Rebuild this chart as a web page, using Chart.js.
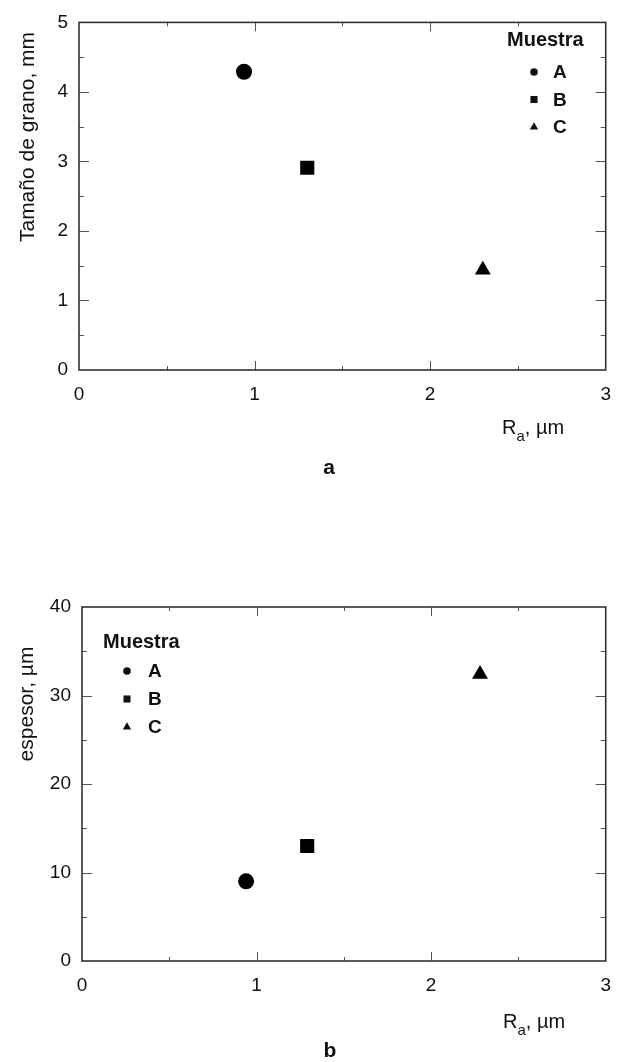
<!DOCTYPE html>
<html><head><meta charset="utf-8">
<script src="https://cdn.jsdelivr.net/npm/chart.js@4"></script>
<style>
html,body{margin:0;padding:0;background:#fff;}
#wrap{position:relative;width:624px;height:1062px;overflow:hidden;}
.box{position:absolute;left:0;width:624px;}
</style></head><body>
<div id="wrap">
<div class="box" style="top:0;height:500px"><canvas id="c1"></canvas></div>
<div class="box" style="top:500px;height:562px"><canvas id="c2"></canvas></div>
</div>
<script>
// ---- data ----
const samples = ['A', 'B', 'C'];
const pointStyles = ['circle', 'rect', 'triangle'];
const raTop = [0.94, 1.30, 2.30];
const grainSize = [4.29, 2.91, 1.44];
const raBottom = [0.94, 1.29, 2.28];
const thickness = [9.0, 13.0, 32.4];
const xTicks = [0, 1, 2, 3];
const yTicksTop = [0, 1, 2, 3, 4, 5];
const yTicksBottom = [0, 10, 20, 30, 40];

const FONT = "'Liberation Sans', Arial, Helvetica, sans-serif";
Chart.defaults.font.family = FONT;
Chart.defaults.color = '#111';
Chart.defaults.animation = false;

function drawMarker(ctx, style, x, y, r) {
  ctx.beginPath();
  if (style === 'circle') {
    ctx.arc(x, y, r, 0, Math.PI * 2);
  } else if (style === 'rect') {
    const s = r * Math.SQRT1_2;
    ctx.rect(x - s, y - s, 2 * s, 2 * s);
  } else {
    ctx.moveTo(x, y - r);
    ctx.lineTo(x + 0.866 * r, y + 0.5 * r);
    ctx.lineTo(x - 0.866 * r, y + 0.5 * r);
    ctx.closePath();
  }
  ctx.fill();
}

const framePlugin = {
  id: 'frame',
  afterDraw(chart, args, o) {
    const ctx = chart.ctx;
    const a = chart.chartArea;
    const xs = chart.scales.x, ys = chart.scales.y;
    ctx.save();
    // ticks (inward, all four sides)
    ctx.strokeStyle = '#555';
    ctx.lineWidth = 1;
    const tk = (vals, major) => vals;
    for (let v = xs.min + o.xMinor; v < xs.max - 1e-9; v += o.xMinor) {
      const isMajor = Math.abs(v / o.xMajor - Math.round(v / o.xMajor)) < 1e-6;
      const L = isMajor ? 9 : 4;
      const px = Math.round(xs.getPixelForValue(v)) + 0.5;
      ctx.beginPath();
      ctx.moveTo(px, a.bottom); ctx.lineTo(px, a.bottom - L);
      ctx.moveTo(px, a.top); ctx.lineTo(px, a.top + L);
      ctx.stroke();
    }
    for (let v = ys.min + o.yMinor; v < ys.max - 1e-9; v += o.yMinor) {
      const isMajor = Math.abs(v / o.yMajor - Math.round(v / o.yMajor)) < 1e-6;
      const L = isMajor ? 10 : 5;
      const py = Math.round(ys.getPixelForValue(v)) + 0.5;
      ctx.beginPath();
      ctx.moveTo(a.left, py); ctx.lineTo(a.left + L, py);
      ctx.moveTo(a.right, py); ctx.lineTo(a.right - L, py);
      ctx.stroke();
    }
    // frame
    ctx.strokeStyle = '#333';
    ctx.lineWidth = 1.6;
    ctx.strokeRect(a.left, a.top, a.right - a.left, a.bottom - a.top);

    // y axis title
    ctx.fillStyle = '#111';
    ctx.font = '21px ' + FONT;
    ctx.textAlign = 'center';
    ctx.textBaseline = 'middle';
    ctx.save();
    ctx.translate(o.yTitleX, o.yTitleY);
    ctx.rotate(-Math.PI / 2);
    ctx.fillText(o.yTitle, 0, 0);
    ctx.restore();

    // x axis title  R_a, µm
    ctx.textAlign = 'left';
    ctx.textBaseline = 'alphabetic';
    let x = o.xTitleX;
    ctx.font = '20px ' + FONT;
    ctx.fillText('R', x, o.xTitleBase);
    x += ctx.measureText('R').width;
    ctx.font = '15px ' + FONT;
    ctx.fillText('a', x, o.xTitleBase + 7);
    x += ctx.measureText('a').width;
    ctx.font = '20px ' + FONT;
    ctx.fillText(', \u00b5m', x, o.xTitleBase);

    // caption
    ctx.font = 'bold 21px ' + FONT;
    ctx.textAlign = 'center';
    ctx.fillText(o.caption, o.capX, o.capBase);

    // legend
    ctx.textAlign = 'left';
    ctx.font = 'bold 20px ' + FONT;
    ctx.fillText('Muestra', o.legX, o.legTitleBase);
    ctx.font = 'bold 19px ' + FONT;
    const mr = [3.8, 5, 4.8];
    samples.forEach((s, i) => {
      const cy = o.legRow0 + i * o.legGap;
      drawMarker(ctx, pointStyles[i], o.legMarkX, cy, mr[i]);
      ctx.textBaseline = 'middle';
      ctx.fillText(s, o.legTextX, cy + 1);
    });
    ctx.restore();
  }
};

function makeChart(id, xs, ys, yTicks, yMax, frameOpts, pad, yWidth) {
  const data = xs.map((x, i) => ({ x: x, y: ys[i] }));
  return new Chart(document.getElementById(id), {
    type: 'scatter',
    data: {
      datasets: [{
        label: 'Muestra',
        data: data,
        pointStyle: pointStyles,
        pointRadius: [8, 10, 9.2],
        backgroundColor: '#000',
        borderColor: '#000',
        borderWidth: 0
      }]
    },
    options: {
      responsive: true,
      maintainAspectRatio: false,
      layout: { padding: pad },
      plugins: { legend: { display: false }, tooltip: { enabled: false }, frame: frameOpts },
      scales: {
        x: {
          type: 'linear', min: 0, max: 3,
          grid: { display: false, drawTicks: false },
          border: { display: false },
          ticks: { font: { size: 19 }, padding: 13, color: '#111', maxRotation: 0 },
          afterBuildTicks: s => { s.ticks = xTicks.map(v => ({ value: v })); },
          afterFit: s => { s.height = 40; }
        },
        y: {
          type: 'linear', min: 0, max: yMax,
          grid: { display: false, drawTicks: false },
          border: { display: false },
          ticks: { font: { size: 19 }, padding: 11, color: '#111' },
          afterBuildTicks: s => { s.ticks = yTicks.map(v => ({ value: v })); },
          afterFit: s => { s.width = yWidth; }
        }
      }
    },
    plugins: [framePlugin]
  });
}

makeChart('c1', raTop, grainSize, yTicksTop, 5, {
  xMinor: 0.5, xMajor: 1, yMinor: 0.5, yMajor: 1,
  yTitle: 'Tama\u00f1o de grano, mm', yTitleX: 28, yTitleY: 137,
  xTitleX: 502, xTitleBase: 434,
  caption: 'a', capX: 329, capBase: 474,
  legX: 507, legTitleBase: 46, legMarkX: 534, legTextX: 553, legRow0: 72, legGap: 27.5
}, { left: 0, right: 15, top: 14, bottom: 90 }, 79);

makeChart('c2', raBottom, thickness, yTicksBottom, 40, {
  xMinor: 0.5, xMajor: 1, yMinor: 5, yMajor: 10,
  yTitle: 'espesor, \u00b5m', yTitleX: 27, yTitleY: 204,
  xTitleX: 503, xTitleBase: 528,
  caption: 'b', capX: 330, capBase: 557,
  legX: 103, legTitleBase: 148, legMarkX: 127, legTextX: 148, legRow0: 171, legGap: 28
}, { left: 0, right: 11, top: 107, bottom: 61 }, 82);
</script>
</body></html>
